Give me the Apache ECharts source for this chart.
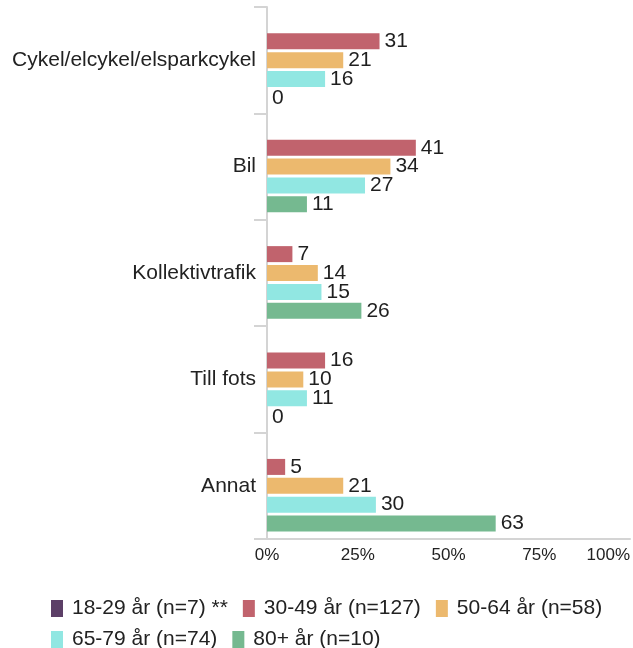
<!DOCTYPE html>
<html lang="sv">

<head>
    <meta charset="UTF-8">
    <title>Färdsätt</title>
    <style>
        html, body { margin: 0; padding: 0; background: #fff; }
    </style>
</head>

<body>
    <div id="main" style="width: 633px;height:648px;"></div>
</body>
<script src="https://cdn.jsdelivr.net/npm/echarts@6.0.0/dist/echarts.min.js"></script>

<script>
    var kategorier = ['Cykel/elcykel/elsparkcykel', 'Bil', 'Kollektivtrafik', 'Till fots', 'Annat'];
    var serieNamn = ['18-29 år (n=7) **', '30-49 år (n=127)', '50-64 år (n=58)', '65-79 år (n=74)', '80+ år (n=10)'];
    var farger = ['#5c3f67', '#c1636d', '#ecb96e', '#91e7e2', '#75b990'];

    // 18-29 år har för få svar, visas inte
    var ar18_29 = [null, null, null, null, null];
    var ar30_49 = [31, 41, 7, 16, 5];
    var ar50_64 = [21, 34, 14, 10, 21];
    var ar65_79 = [16, 27, 15, 11, 30];
    var ar80 = [0, 11, 26, 0, 63];

    var xTicks = [0, 25, 50, 75, 100];

    var allaVarden = [ar18_29, ar30_49, ar50_64, ar65_79, ar80];
    var serier = [];
    for (var i = 0; i < serieNamn.length; i++) {
        serier.push({
            name: serieNamn[i],
            type: 'bar',
            data: allaVarden[i],
            barGap: '18%',
            barCategoryGap: '14%',
            itemStyle: { color: farger[i] },
            label: {
                show: true,
                position: 'right',
                distance: 5,
                color: '#1f1f1f',
                fontSize: 21,
                fontFamily: 'Liberation Sans'
            }
        });
    }

    var myChart = echarts.init(document.getElementById('main'));
    myChart.setOption({
        animation: false,
        textStyle: { fontFamily: 'Liberation Sans' },
        grid: {
            left: 267,
            right: 2,
            top: 7,
            bottom: 109
        },
        legend: {
            data: serieNamn,
            left: 46,
            top: 593,
            width: 575,
            icon: 'rect',
            itemWidth: 12,
            itemHeight: 17,
            itemGap: 10,
            textStyle: {
                fontSize: 21,
                lineHeight: 21,
                color: '#222',
                padding: [0, 5, 0, 4]
            }
        },
        xAxis: {
            type: 'value',
            min: xTicks[0],
            max: xTicks[xTicks.length - 1],
            interval: 25,
            axisLine: { show: true, lineStyle: { color: '#d4d4d4', width: 2 } },
            axisTick: { show: false },
            splitLine: { show: false },
            axisLabel: {
                formatter: '{value}%',
                fontSize: 17,
                color: '#222',
                margin: 8,
                alignMaxLabel: 'right'
            }
        },
        yAxis: {
            type: 'category',
            inverse: true,
            data: kategorier,
            axisLine: { show: true, lineStyle: { color: '#d4d4d4', width: 2 } },
            axisTick: { show: true, length: 13, lineStyle: { color: '#d4d4d4', width: 2 } },
            axisLabel: {
                fontSize: 21,
                color: '#222',
                margin: 11
            }
        },
        series: serier
    });
</script>

</html>
